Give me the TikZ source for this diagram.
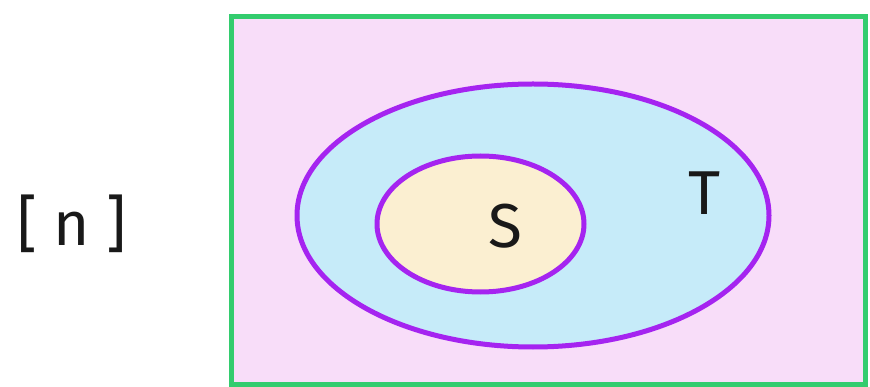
\documentclass[tikz,border=0pt]{standalone}
\usepackage{fontspec}
\setmainfont{Fira Sans}
\usetikzlibrary{shapes.geometric}
\definecolor{framegreen}{HTML}{33CC6E}
\definecolor{setpink}{HTML}{F8DDF9}
\definecolor{setblue}{HTML}{C6EBF9}
\definecolor{setorange}{HTML}{FBEFD1}
\definecolor{setpurple}{HTML}{A524F0}
\tikzset{
  setline/.style={draw=setpurple, line width=5pt},
  lbl/.style={font=\fontsize{62}{62}\selectfont, text=black!90, inner sep=0pt}
}
\begin{document}
\begin{tikzpicture}[x=1pt,y=-1pt]
\useasboundingbox (0,0) rectangle (870,387);
\node[draw=framegreen, fill=setpink, line width=4.5pt, minimum width=634pt, minimum height=368pt, inner sep=0pt] (U) at (548.5,200.5) {};
\node[setline, fill=setblue, ellipse, minimum width=472pt, minimum height=263pt, inner sep=0pt] (T) at (533,215.5) {};
\node[setline, fill=setorange, ellipse, minimum width=207pt, minimum height=136pt, inner sep=0pt] (S) at (480.5,224) {};
\node[lbl] (Slbl) at (505,226) {S};
\node[lbl] (Tlbl) at (705,193) {T};
\node[lbl, font=\fontsize{62}{62}\selectfont] (nlbl) at (72,224) {[\hspace{16pt}n\hspace{16pt}]};
\end{tikzpicture}
\end{document}
